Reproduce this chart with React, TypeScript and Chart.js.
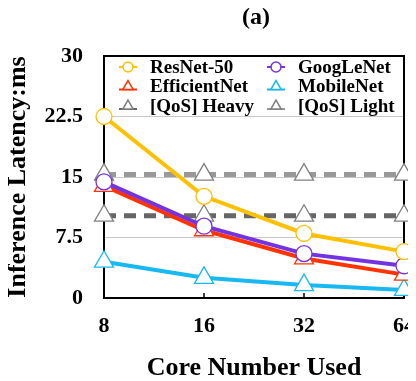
import React, { useEffect, useRef } from 'react';
import { Chart, registerables } from 'chart.js';

Chart.register(...registerables);

const categories = ['8', '16', '32', '64'];
const resnet50 = [22.5, 12.6, 8.0, 5.75];
const googlenet = [14.4, 8.9, 5.5, 4.0];
const efficientnet = [13.9, 8.4, 4.9, 2.9];
const mobilenet = [4.5, 2.5, 1.6, 1.0];
const qosHeavy = [10.2, 10.2, 10.2, 10.2];
const qosLight = [15.3, 15.3, 15.3, 15.3];
const yTicks = [0, 7.5, 15, 22.5, 30];

const FONT = "'Liberation Serif', 'Times New Roman', serif";

const legendPlugin = {
  id: 'inLegend',
  afterDraw(chart: any) {
    const ctx = chart.ctx;
    const { left, right, top } = chart.chartArea;
    ctx.save();
    // title
    ctx.font = `bold 24px ${FONT}`;
    ctx.fillStyle = '#000';
    ctx.textAlign = 'center';
    ctx.textBaseline = 'middle';
    ctx.fillText('(a)', (left + right) / 2 + 2, 10);
    chart.data.datasets.forEach((ds: any, i: number) => {
      const col = i % 2;
      const row = Math.floor(i / 2);
      const mx = left + 24 + col * 148;
      const my = top + 11 + row * 19.5;
      const lineCol = ds.legendLine || ds.borderColor;
      ctx.strokeStyle = lineCol;
      ctx.lineWidth = 2;
      ctx.setLineDash([]);
      ctx.beginPath();
      ctx.moveTo(mx - 9, my + (ds.pointStyle === 'triangle' ? 3 : 0));
      ctx.lineTo(mx + 9, my + (ds.pointStyle === 'triangle' ? 3 : 0));
      ctx.stroke();
      ctx.fillStyle = '#fff';
      ctx.strokeStyle = ds.pointBorderColor;
      ctx.lineWidth = 1.5;
      ctx.beginPath();
      if (ds.pointStyle === 'triangle') {
        const r = 6;
        for (let k = 0; k < 3; k++) {
          const a = (k * 2 * Math.PI) / 3;
          const px = mx + Math.sin(a) * r;
          const py = my - Math.cos(a) * r;
          if (k === 0) ctx.moveTo(px, py);
          else ctx.lineTo(px, py);
        }
        ctx.closePath();
      } else {
        ctx.arc(mx, my, 5, 0, Math.PI * 2);
      }
      ctx.fill();
      ctx.stroke();
      ctx.font = `bold 19px ${FONT}`;
      ctx.fillStyle = '#000';
      ctx.textAlign = 'left';
      ctx.textBaseline = 'middle';
      ctx.fillText(ds.label, mx + 22, my + 1);
    });
    ctx.restore();
  },
  beforeDatasetsDraw(chart: any) {
    const ctx = chart.ctx;
    const { right, top, bottom } = chart.chartArea;
    ctx.save();
    ctx.strokeStyle = '#000';
    ctx.lineWidth = 2;
    ctx.beginPath();
    ctx.moveTo(right, top - 1);
    ctx.lineTo(right, bottom);
    ctx.stroke();
    const xs = chart.scales.x;
    ctx.lineWidth = 1.5;
    categories.forEach((_, i) => {
      const px = xs.getPixelForValue(i);
      ctx.beginPath();
      ctx.moveTo(px, bottom);
      ctx.lineTo(px, bottom - 5);
      ctx.stroke();
    });
    ctx.restore();
  },
};

function makeSeries(label: string, data: number[], color: string, style: string, extra: any = {}) {
  return {
    label,
    data,
    borderColor: color,
    backgroundColor: color,
    pointStyle: style,
    pointRadius: style === 'triangle' ? 11 : 8,
    pointBackgroundColor: '#fff',
    pointBorderColor: color,
    pointBorderWidth: 1.3,
    borderWidth: 4,
    tension: 0,
    clip: false,
    ...extra,
  };
}

export default function App() {
  const ref = useRef<HTMLCanvasElement | null>(null);
  useEffect(() => {
    if (!ref.current) return;
    const chart = new Chart(ref.current, {
      type: 'line',
      data: {
        labels: categories,
        datasets: [
          makeSeries('ResNet-50', resnet50, '#FFC000', 'circle'),
          makeSeries('GoogLeNet', googlenet, '#7433E3', 'circle'),
          makeSeries('EfficientNet', efficientnet, '#FF3300', 'triangle'),
          makeSeries('MobileNet', mobilenet, '#18B8F0', 'triangle'),
          makeSeries('[QoS] Heavy', qosHeavy, '#666666', 'triangle', {
            borderDash: [12, 8],
            borderWidth: 5,
            pointBorderColor: '#808080',
            legendLine: '#666666',
          }),
          makeSeries('[QoS] Light', qosLight, '#999999', 'triangle', {
            borderDash: [12, 8],
            borderWidth: 5,
            pointBorderColor: '#808080',
            legendLine: '#999999',
          }),
        ],
      },
      options: {
        animation: false,
        responsive: false,
        events: [],
        layout: { padding: { top: 48, right: 4, left: 0, bottom: 0 }, autoPadding: false },
        plugins: { legend: { display: false }, tooltip: { enabled: false }, title: { display: false } },
        scales: {
          x: {
            type: 'category',
            offset: false,
            grid: { display: false, drawTicks: false },
            border: { display: true, color: '#000', width: 2 },
            ticks: { color: '#000', padding: 15, font: { family: FONT, size: 22, weight: 'bold' } },
            title: {
              display: true,
              text: 'Core Number Used',
              color: '#000',
              font: { family: FONT, size: 26, weight: 'bold', lineHeight: 1.0 },
              padding: { top: 0, bottom: 0 },
            },
            afterFit: (s: any) => {
              s.height = 83;
              s.paddingLeft = 0;
              s.paddingRight = 0;
            },
          },
          y: {
            min: 0,
            max: 30,
            afterBuildTicks: (s: any) => {
              s.ticks = yTicks.map((v) => ({ value: v }));
            },
            grid: {
              drawTicks: false,
              color: (c: any) => (c.tick && c.tick.value === 30 ? '#000' : c.tick && c.tick.value === 0 ? 'rgba(0,0,0,0)' : '#c8c8c8'),
              lineWidth: (c: any) => (c.tick && c.tick.value === 30 ? 2 : 1),
            },
            border: { display: true, color: '#000', width: 2 },
            ticks: { color: '#000', padding: 21, font: { family: FONT, size: 22, weight: 'bold' } },
            title: {
              display: true,
              text: 'Inference Latency:ms',
              color: '#000',
              font: { family: FONT, size: 26, weight: 'bold', lineHeight: 0.8 },
              padding: { top: 0, bottom: 0 },
            },
            afterFit: (s: any) => {
              s.width = 96;
              s.paddingTop = 0;
              s.paddingBottom = 0;
            },
          },
        },
      } as any,
      plugins: [legendPlugin],
    });
    return () => chart.destroy();
  }, []);
  return (
    <div style={{ width: 400, height: 373 }}>
      <canvas ref={ref} width={400} height={373} style={{ display: 'block' }} />
    </div>
  );
}
